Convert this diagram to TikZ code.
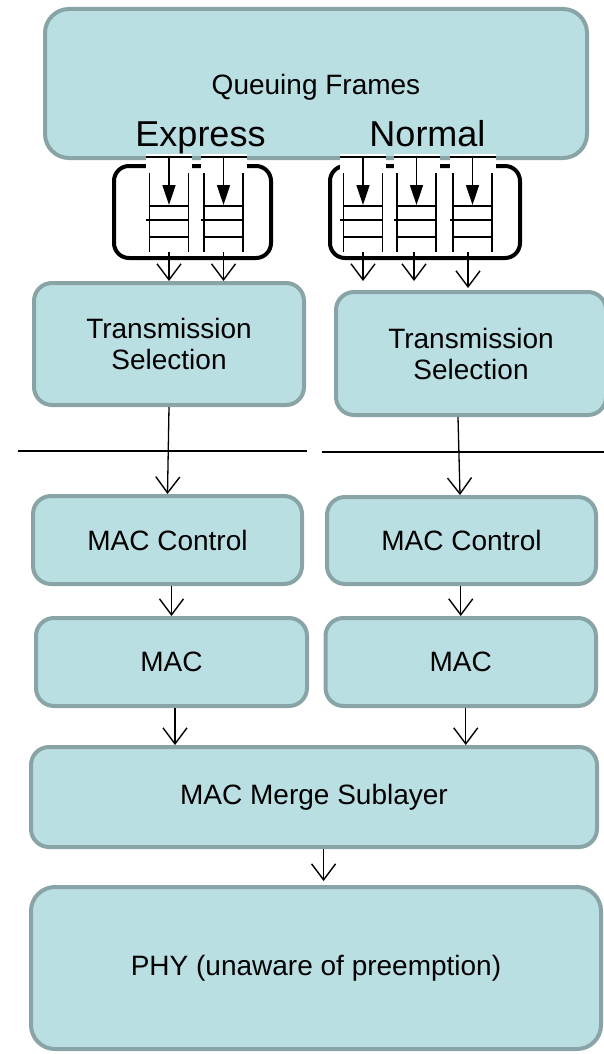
\documentclass[tikz,border=0pt]{standalone}
\usepackage{fontspec}
\setmainfont{Liberation Sans}
\usetikzlibrary{arrows.meta,calc}
\definecolor{boxfill}{RGB}{186,223,226}
\definecolor{boxline}{RGB}{136,164,166}
\begin{document}
\begin{tikzpicture}[x=1pt,y=-1pt,
  box/.style={draw=boxline, fill=boxfill, line width=4pt, rounded corners=18pt,
    align=center, inner sep=0pt, font=\fontsize{28}{31}\selectfont},
  bigbox/.style={box, rounded corners=24pt},
  grp/.style={draw=black, fill=white, line width=4pt, rounded corners=15pt, inner sep=0pt},
  conn/.style={line width=1.3pt, -{Straight Barb[length=16pt,width=24pt,line width=1.4pt]}},
  qline/.style={line width=1.6pt},
  qarrow/.style={line width=1.6pt, -{Triangle[length=20pt,width=13pt]}},
  sepline/.style={line width=2pt},
  lbl/.style={inner sep=0pt, anchor=base}]
\clip (0,0) rectangle (604,1054);

% Queuing frames
\node[bigbox, minimum width=542pt, minimum height=149pt] (qf) at (316,83.5) {};
\node[lbl, font=\fontsize{28}{31}\selectfont] (qft) at (316,95) {Queuing Frames};
\node[lbl, font=\fontsize{36}{40}\selectfont] (ex) at (200.5,146.7) {Express};
\node[lbl, font=\fontsize{36}{40}\selectfont] (nm) at (427.5,146.7) {Normal};

% queue groups
\node[grp, minimum width=157pt, minimum height=92pt] (ge) at (192.5,212) {};
\node[grp, minimum width=190pt, minimum height=92pt] (gn) at (425,212) {};

\foreach \c in {169,223.5,363,416.5,472.5} {
  \fill[white] (\c-23,154) rectangle (\c+23,169.5);
  \draw[qline] (\c-23,157) -- (\c+23,157);
  \draw[qline] (\c-19.5,173) -- (\c-19.5,252);
  \draw[qline] (\c+19.5,173) -- (\c+19.5,252);
  \draw[qline] (\c-19.5,206) -- (\c+19.5,206);
  \draw[qline] (\c-23,220) -- (\c+19.5,220);
  \draw[qline] (\c-19.5,237) -- (\c+19.5,237);
  \draw[qarrow] (\c,157) -- (\c,205);
}

% transmission selection
\node[box, minimum width=270pt, minimum height=122pt] (tsl) at (169,344) {Transmission\\Selection};
\node[box, minimum width=270pt, minimum height=123pt] (tsr) at (471,353.5) {Transmission\\Selection};

\coordinate (qe1) at (169,252);
\coordinate (qe2) at (223.5,252);
\coordinate (qn1) at (363,252);
\coordinate (qn2) at (414,252);
\coordinate (qn3) at (468,252);
\draw[conn] (qe1) -- (qe1 |- tsl.north);
\draw[conn] (qe2) -- (qe2 |- tsl.north);
\draw[conn, shorten >=9pt] (qn1) -- (qn1 |- tsr.north);
\draw[conn, shorten >=9pt] (qn2) -- (qn2 |- tsr.north);
\draw[conn, shorten >=2pt] (qn3) -- (qn3 |- tsr.north);

% separator lines
\coordinate (s1a) at (18,451);
\coordinate (s1b) at (307,451);
\coordinate (s2a) at (322,452);
\coordinate (s2b) at (604,452);
\draw[sepline] (s1a) -- (s1b);
\draw[sepline] (s2a) -- (s2b);

% MAC control
\node[box, minimum width=269pt, minimum height=88pt] (mcl) at (167.5,540) {MAC Control};
\node[box, minimum width=269pt, minimum height=87pt] (mcr) at (461.5,540.5) {MAC Control};
\draw[conn] (tsl.south) -- (mcl.north);
\coordinate (tr) at ($(tsr.south)+(-13,0)$);
\coordinate (mr) at ($(mcr.north)+(-1.5,0)$);
\draw[conn] (tr) -- (mr);

% MAC
\node[box, minimum width=271pt, minimum height=88pt] (macl) at (171.5,662) {MAC};
\node[box, minimum width=270.5pt, minimum height=88pt] (macr) at (460.75,662) {MAC};
\draw[conn] (macl.north |- mcl.south) -- (macl.north);
\draw[conn] (macr.north |- mcr.south) -- (macr.north);

% merge
\node[box, minimum width=566pt, minimum height=100pt] (mrg) at (314,797) {MAC Merge Sublayer};
\coordinate (a1) at ($(macl.south)+(3.5,0)$);
\coordinate (a2) at ($(macr.south)+(5,0)$);
\draw[conn] (a1) -- (a1 |- mrg.north);
\draw[conn] (a2) -- (a2 |- mrg.north);

% PHY
\node[bigbox, minimum width=570pt, minimum height=162pt] (phy) at (316,968) {PHY (unaware of preemption)};
\coordinate (a3) at ($(mrg.south)+(9.6,0)$);
\draw[conn, shorten >=4pt] (a3) -- (a3 |- phy.north);
\end{tikzpicture}
\end{document}
